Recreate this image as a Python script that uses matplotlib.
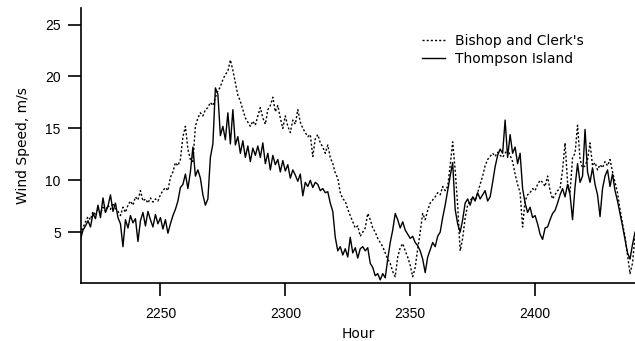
import numpy as np
import matplotlib
matplotlib.use("Agg")
import matplotlib.pyplot as plt

plt.rcParams['font.family'] = ['Liberation Sans', 'DejaVu Sans']

# hourly readings, hours 2218..2440
hours = np.arange(2218, 2441)

thompson = [
    4.3, 5.2, 5.6, 6.1, 5.5, 6.8, 6.3, 7.6, 6.4, 8.3,   # 2218-2227
    6.9, 7.5, 8.6, 7.0, 7.8, 6.4, 5.8, 3.6, 6.2, 5.4,   # 2228-2237
    6.6, 5.9, 6.3, 4.1, 6.1, 6.9, 5.6, 7.0, 6.2, 5.5,   # 2238-2247
    6.7, 5.8, 6.4, 5.3, 6.2, 4.9, 5.8, 6.6, 7.2, 8.0,   # 2248-2257
    9.3, 9.6, 10.6, 9.2, 10.8, 13.2, 10.4, 11.0, 10.2, 8.6,  # 2258-2267
    7.6, 8.2, 12.2, 13.5, 18.9, 18.3, 14.3, 15.2, 13.9, 16.5,  # 2268-2277
    13.5, 16.8, 13.4, 14.2, 12.6, 13.8, 12.2, 13.3, 11.8, 13.1,  # 2278-2287
    12.4, 13.3, 12.2, 13.6, 11.6, 12.6, 11.0, 12.4, 11.5, 12.0,  # 2288-2297
    10.8, 11.9, 10.9, 11.5, 10.2, 11.0, 10.5, 9.9, 10.6, 8.5,  # 2298-2307
    9.8, 9.4, 10.0, 9.3, 9.8, 9.6, 9.0, 9.2, 8.8, 8.9,   # 2308-2317
    7.8, 7.0, 4.5, 3.2, 3.6, 2.8, 3.4, 2.6, 4.5, 3.0,   # 2318-2327
    3.5, 2.5, 3.4, 3.6, 3.2, 3.5, 2.0, 1.6, 0.8, 1.0,   # 2328-2337
    0.4, 1.0, 0.6, 2.4, 4.0, 5.2, 6.8, 6.2, 5.4, 6.0,   # 2338-2347
    5.2, 4.8, 4.4, 4.6, 4.0, 3.7, 3.2, 2.4, 1.1, 2.6,   # 2348-2357
    3.3, 4.0, 3.6, 4.6, 5.0, 6.4, 7.6, 9.0, 10.4, 11.7,  # 2358-2367
    7.2, 5.8, 5.0, 6.2, 7.8, 8.2, 7.6, 8.4, 8.0, 8.8,   # 2368-2377
    8.2, 8.6, 9.0, 8.0, 8.4, 9.8, 11.3, 12.4, 13.0, 12.6,  # 2378-2387
    15.8, 12.2, 14.4, 12.6, 13.2, 11.6, 12.6, 9.2, 7.8, 6.9,  # 2388-2397
    7.4, 6.4, 6.6, 5.8, 4.8, 4.3, 5.4, 5.5, 6.2, 6.8,   # 2398-2407
    7.1, 7.8, 8.6, 9.2, 8.4, 9.6, 8.6, 6.2, 9.4, 11.6,  # 2408-2417
    9.8, 10.4, 14.9, 10.8, 9.8, 11.2, 9.6, 8.6, 6.5, 9.2,  # 2418-2427
    10.4, 11.0, 9.4, 10.6, 9.0, 8.0, 6.8, 5.6, 4.3, 3.0,  # 2428-2437
    2.4, 3.8, 5.0,                                        # 2438-2440
]

bishop = [
    4.8, 5.4, 6.0, 6.5, 6.2, 7.0, 6.6, 7.2, 6.8, 7.4,   # 2218-2227
    7.0, 7.6, 7.2, 7.8, 7.3, 7.0, 6.6, 7.4, 6.9, 7.6,   # 2228-2237
    8.0, 7.6, 8.4, 8.1, 9.0, 8.0, 8.2, 7.8, 8.3, 7.9,   # 2238-2247
    8.2, 8.0, 8.6, 9.0, 9.3, 9.0, 10.3, 10.8, 11.7, 11.4,  # 2248-2257
    12.0, 14.2, 15.2, 13.0, 12.0, 11.8, 15.2, 16.0, 16.5, 16.2,  # 2258-2267
    16.8, 17.0, 17.5, 17.2, 18.0, 18.6, 19.0, 19.7, 20.2, 20.5,  # 2268-2277
    21.6, 20.6, 19.4, 18.2, 17.6, 16.8, 16.0, 15.6, 15.2, 15.7,  # 2278-2287
    15.3, 16.2, 17.0, 16.0, 15.4, 16.8, 17.2, 18.0, 16.6, 17.2,  # 2288-2297
    16.0, 15.0, 16.2, 15.2, 14.6, 15.8, 15.4, 16.8, 15.6, 15.0,  # 2298-2307
    14.6, 14.2, 14.4, 12.3, 14.0, 14.4, 13.6, 13.2, 12.6, 13.4,  # 2308-2317
    12.2, 11.6, 10.7, 10.2, 8.8, 8.2, 8.0, 7.2, 6.6, 6.0,   # 2318-2327
    5.4, 5.6, 4.6, 5.0, 5.4, 6.8, 6.2, 5.4, 5.0, 4.4,   # 2328-2337
    4.0, 3.6, 3.0, 2.4, 2.0, 1.2, 0.7, 2.6, 3.5, 3.9,   # 2338-2347
    3.2, 2.6, 1.8, 0.7, 1.6, 3.4, 5.0, 6.8, 6.2, 7.1,   # 2348-2357
    7.8, 8.1, 8.4, 8.8, 8.6, 9.4, 9.0, 9.4, 11.4, 13.7,  # 2358-2367
    11.0, 7.6, 3.2, 4.4, 6.4, 7.6, 8.0, 8.4, 8.1, 8.8,  # 2368-2377
    9.6, 10.4, 11.4, 12.0, 12.3, 12.6, 12.3, 12.7, 12.4, 12.2,  # 2378-2387
    12.6, 13.0, 12.4, 11.8, 10.6, 9.6, 8.8, 5.5, 8.0, 8.6,  # 2388-2397
    8.8, 9.2, 9.0, 9.6, 10.0, 9.8, 9.4, 10.4, 9.0, 8.2,  # 2398-2407
    8.6, 9.0, 9.2, 11.0, 13.6, 9.8, 8.8, 12.2, 12.6, 15.3,  # 2408-2417
    12.0, 11.2, 11.4, 12.0, 13.6, 11.4, 11.7, 11.0, 11.5, 11.2,  # 2418-2427
    11.8, 11.4, 12.0, 10.8, 9.8, 8.8, 7.2, 5.8, 4.6, 2.8,  # 2428-2437
    1.0, 2.0, 4.6,                                        # 2438-2440
]

fig = plt.figure(figsize=(6.35, 3.41), dpi=100)
ax = fig.add_axes([81 / 635, 58 / 341, 554 / 635, 275 / 341])

ax.plot(hours, bishop, color="black", lw=1.0, ls=(0, (1.5, 1.5)), label="Bishop and Clerk's")
ax.plot(hours, thompson, color="black", lw=1.0, label="Thompson Island")

ax.set_xlim(2218.2, 2440)
ax.set_ylim(0.1, 26.6)
ax.set_xticks([2250, 2300, 2350, 2400])
ax.set_yticks([5, 10, 15, 20, 25])

for s in ["top", "right"]:
    ax.spines[s].set_visible(False)
for s in ["left", "bottom"]:
    ax.spines[s].set_linewidth(1.2)
ax.tick_params(direction="out", length=9.5, width=1.2, labelsize=10)
ax.tick_params(axis="x", pad=8)
ax.tick_params(axis="y", pad=5)

# labels in the original are letter-spaced, DejaVu gets the width closer
lab_font = ["DejaVu Sans"]
ax.set_xlabel("Hour", fontsize=10, labelpad=4, family=lab_font)
ax.set_ylabel("Wind Speed, m/s", fontsize=10, labelpad=11, family=lab_font)

ax.legend(loc="upper left", bbox_to_anchor=(0.6155, 0.905), frameon=False,
          borderpad=0, borderaxespad=0,
          prop={"family": lab_font, "size": 10},
          handlelength=1.65, handletextpad=0.7, labelspacing=0.25)

fig.savefig("out.png", dpi=100)
